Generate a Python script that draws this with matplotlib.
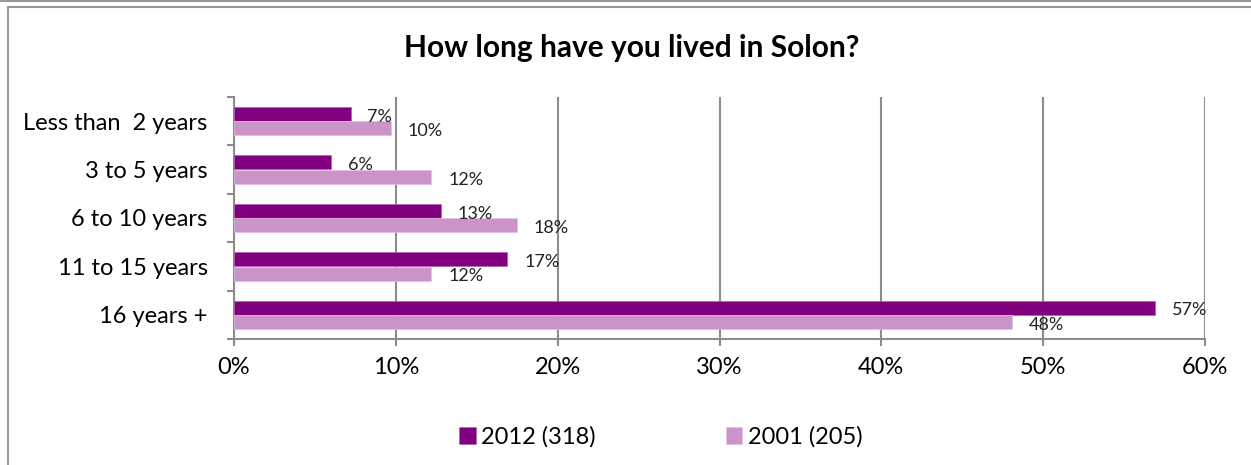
import matplotlib.pyplot as plt
import numpy as np
from matplotlib.lines import Line2D

plt.rcParams['font.family'] = ['Lato', 'DejaVu Sans']

# survey answers, share of respondents (%)
categories = ['Less than  2 years', '3 to 5 years', '6 to 10 years', '11 to 15 years', '16 years +']
share_2012 = [7.2, 6.0, 12.8, 16.9, 56.9]
share_2001 = [9.7, 12.2, 17.5, 12.2, 48.1]
series_names = ['2012 (318)', '2001 (205)']
x_ticks = [0, 10, 20, 30, 40, 50, 60]

dark = '#800080'
light = '#CC93C8'
grid_col = '#8C8C8C'

fig = plt.figure(figsize=(12.51, 4.65), dpi=100)
ax = fig.add_axes([234 / 1251, 1 - 339 / 465, (1205 - 234) / 1251, (339 - 97) / 465])

y = np.arange(len(categories))
h = 0.29
b1 = ax.barh(y - 0.15, share_2012, height=h, color=dark, edgecolor='#B060B0', linewidth=0.5,
             label=series_names[0], zorder=3)
b2 = ax.barh(y + 0.15, share_2001, height=h, color=light, edgecolor='#E0C0E0', linewidth=0.5,
             label=series_names[1], zorder=3)

for bars, vals in [(b1, share_2012), (b2, share_2001)]:
    for rect, v in zip(bars, vals):
        ax.annotate(f'{v:.0f}%', (v, rect.get_y() + rect.get_height() / 2),
                    xytext=(12, -2), textcoords='offset points',
                    ha='left', va='center', fontsize=13, color='#222222')

ax.set_xlim(0, 60)
ax.set_ylim(4.5, -0.5)

ax.set_xticks(x_ticks)
ax.set_xticklabels([f'{t}%' for t in x_ticks], fontsize=17)
ax.tick_params(axis='x', length=5, width=1.5, color=grid_col, pad=8)

# category boundaries get the tick marks, labels sit at the centres
ax.set_yticks(np.arange(-0.5, 5.0, 1.0))
ax.set_yticklabels([])
ax.tick_params(axis='y', which='major', length=5, width=1.5, color=grid_col)
ax.set_yticks(y, minor=True)
ax.set_yticklabels(categories, minor=True, fontsize=17)
ax.tick_params(axis='y', which='minor', length=0, pad=19)

ax.grid(axis='x', color=grid_col, linewidth=1.5, zorder=0)
for side in ['top', 'right']:
    ax.spines[side].set_visible(False)
for side in ['left', 'bottom']:
    ax.spines[side].set_color(grid_col)
    ax.spines[side].set_linewidth(1.5)

fig.text(632 / 1251, 1 - 48 / 465, 'How long have you lived in Solon?',
         ha='center', va='center', fontsize=21.5, fontweight='bold')

fig.legend(handles=[b1, b2], labels=series_names, loc='center', bbox_to_anchor=(661 / 1251, 1 - 437 / 465),
           ncol=2, frameon=False, fontsize=17, handlelength=0.7, handleheight=0.7,
           handletextpad=0.25, columnspacing=5.5)

# chart frame
W, H = 1251, 465
fig.add_artist(Line2D([0, 1], [1 - 1.5 / H, 1 - 1.5 / H], color='#999999', linewidth=1.5))
fig.add_artist(Line2D([8 / W, 8 / W], [0, 1 - 7 / H], color='#999999', linewidth=1.5))
fig.add_artist(Line2D([8 / W, 1], [1 - 7 / H, 1 - 7 / H], color='#999999', linewidth=1.5))

fig.savefig('out.png', dpi=100)
